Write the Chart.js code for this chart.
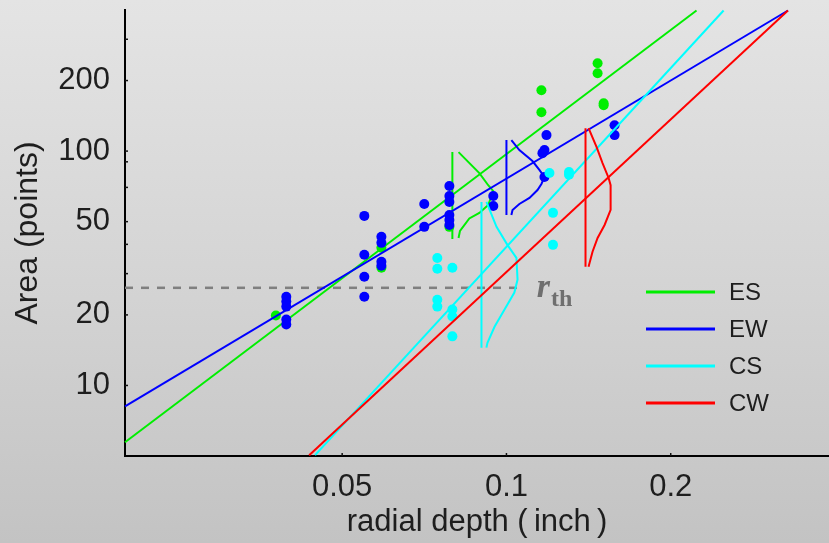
<!DOCTYPE html>
<html>
<head>
<meta charset="utf-8">
<script src="https://cdn.jsdelivr.net/npm/chart.js@4"></script>
<style>
  html, body { margin: 0; padding: 0; }
  body {
    width: 829px; height: 543px; overflow: hidden;
    background: linear-gradient(to bottom, #e4e4e4 0%, #d3d3d3 55%, #c3c3c3 100%);
  }
  #chart { display: block; }
</style>
</head>
<body>
<canvas id="chart" width="829" height="543"></canvas>
<script>
// groups and their colours
const groups = ['ES', 'EW', 'CS', 'CW'];
const groupColors = ['#00ee00', '#0000ff', '#00ffff', '#ff0000'];

// measured spots: radial depth (inch) vs area (points)
const esDepth = [0.0378, 0.059, 0.059, 0.0786, 0.1159, 0.1159, 0.1469, 0.1469, 0.1507, 0.1507];
const esArea  = [19.9, 38.7, 31.8, 47.5, 181.8, 146.6, 236.9, 214.7, 160, 157];

const ewDepth = [0.0395, 0.0395, 0.0395, 0.0395, 0.0395,
                 0.0549, 0.0549, 0.0549, 0.0549,
                 0.059, 0.059, 0.059, 0.059,
                 0.0707, 0.0707,
                 0.0786, 0.0786, 0.0786, 0.0786, 0.0786, 0.0786,
                 0.0946, 0.0946,
                 0.1184, 0.1174, 0.1164, 0.1174,
                 0.1578, 0.1578];
const ewArea  = [23.9, 22.8, 21.7, 19.1, 18.2,
                 52.9, 36.1, 29.1, 23.9,
                 43.1, 40.6, 33.7, 32.4,
                 59.5, 47.5,
                 71, 64.3, 60.7, 53.4, 50.8, 48.4,
                 64.3, 58.3,
                 117, 101, 98, 77.5,
                 129, 117];

const csDepth = [0.0747, 0.0747, 0.0747, 0.0747, 0.0796, 0.0796, 0.0796, 0.0796,
                 0.1199, 0.1302, 0.1302, 0.1217, 0.1217];
const csArea  = [35.0, 31.5, 23.2, 21.7, 31.8, 21.1, 19.7, 16.2,
                 80.6, 81.4, 79.3, 54.5, 39.8];

// power-law fits (straight in log-log)
const esFitDepth = [0.02, 0.223],  esFitArea = [5.72, 398];
const ewFitDepth = [0.02, 0.328],  ewFitArea = [8.14, 398];
const csFitDepth = [0.0446, 0.25], csFitArea = [5.04, 398];
const cwFitDepth = [0.0435, 0.328], cwFitArea = [5.04, 398];

// spread of area at a fixed depth: stem + density profile
const esStemDepth = [0.0796, 0.0796], esStemArea = [99, 42.2];
const esDistDepth = [0.0817, 0.0892, 0.0926, 0.0946, 0.0926, 0.0892, 0.0855, 0.0822, 0.0817];
const esDistArea  = [99, 80.6, 71.5, 67.5, 58.9, 54.5, 51.6, 45.7, 42.6];

const ewStemDepth = [0.1, 0.1], ewStemArea = [111.4, 53.4];
const ewDistDepth = [0.1021, 0.1056, 0.1116, 0.115, 0.1174, 0.1159, 0.114, 0.1102, 0.1056, 0.1026, 0.1021];
const ewDistArea  = [111.4, 101, 90.7, 83, 77.5, 72.4, 68.2, 63.1, 59.5, 56.1, 53.4];

const csStemDepth = [0.09, 0.09], csStemArea = [60.7, 14.5];
const csDistDepth = [0.0919, 0.0959, 0.1004, 0.1043, 0.1048, 0.1034, 0.0992, 0.0951, 0.0923, 0.0919];
const csDistArea  = [60.7, 47.5, 39.8, 35.0, 28.3, 24.9, 21.1, 17.8, 15.2, 14.5];

const cwStemDepth = [0.1396, 0.1396], cwStemArea = [125.3, 32.1];
const cwDistDepth = [0.1414, 0.1463, 0.15, 0.1539, 0.1552, 0.1552, 0.1513, 0.1469, 0.1438, 0.1414];
const cwDistArea  = [125.3, 104, 88.9, 76.8, 71.5, 56.1, 48.4, 42.6, 37.2, 32.1];

// threshold radius
const rThreshold = 26.1;
const rThresholdDepth = [0.02, 0.108];

// axis ranges and ticks
const xRange = [0.02, 0.39];
const yRange = [5, 400];
const xTicks = [0.05, 0.1, 0.2];
const yTicks = [10, 20, 50, 100, 200];
const xTickMarks = [0.05, 0.1, 0.2];
const yTickMarks = [300, 200, 100, 90, 70, 50, 40, 30, 20, 10];

const FONT = "'Liberation Sans', Arial, sans-serif";

function pts(xs, ys) {
  return xs.map((x, i) => ({ x: x, y: ys[i] }));
}

function lineSet(xs, ys, color, order) {
  return {
    data: pts(xs, ys),
    showLine: true,
    borderColor: color,
    borderWidth: 2,
    pointRadius: 0,
    fill: false,
    order: order
  };
}

function dotSet(xs, ys, color, order) {
  return {
    data: pts(xs, ys),
    showLine: false,
    backgroundColor: color,
    borderWidth: 0,
    pointRadius: 5,
    order: order
  };
}

// pin a log axis to its range and fixed tick list
function pinAxis(range, ticks) {
  return {
    afterDataLimits: (scale) => { scale.min = range[0]; scale.max = range[1]; },
    afterBuildTicks: (scale) => {
      scale.ticks = ticks.map(v => ({ value: v }));
      scale.min = range[0];
      scale.max = range[1];
    }
  };
}

const [cES, cEW, cCS, cCW] = groupColors;

const datasets = [
  // dashed threshold line, drawn first
  Object.assign(lineSet(rThresholdDepth, [rThreshold, rThreshold], '#7f7f7f', 50),
    { borderDash: [8, 8], borderWidth: 2.5 }),

  lineSet(esFitDepth, esFitArea, cES, 44),
  lineSet(esStemDepth, esStemArea, cES, 43),
  lineSet(esDistDepth, esDistArea, cES, 42),
  dotSet(esDepth, esArea, cES, 41),

  lineSet(ewFitDepth, ewFitArea, cEW, 34),
  lineSet(ewStemDepth, ewStemArea, cEW, 33),
  lineSet(ewDistDepth, ewDistArea, cEW, 32),
  dotSet(ewDepth, ewArea, cEW, 31),

  lineSet(csFitDepth, csFitArea, cCS, 24),
  lineSet(csStemDepth, csStemArea, cCS, 23),
  lineSet(csDistDepth, csDistArea, cCS, 22),
  dotSet(csDepth, csArea, cCS, 21),

  lineSet(cwFitDepth, cwFitArea, cCW, 14),
  lineSet(cwStemDepth, cwStemArea, cCW, 13),
  lineSet(cwDistDepth, cwDistArea, cCW, 12)
];

// small inward tick marks on both axes
const inwardTicks = {
  id: 'inwardTicks',
  afterDraw(chart) {
    const { ctx, chartArea, scales } = chart;
    ctx.save();
    ctx.strokeStyle = '#111';
    ctx.lineWidth = 1.5;
    yTickMarks.forEach(v => {
      const y = scales.y.getPixelForValue(v);
      ctx.beginPath();
      ctx.moveTo(chartArea.left, y);
      ctx.lineTo(chartArea.left + 3, y);
      ctx.stroke();
    });
    xTickMarks.forEach(v => {
      const x = scales.x.getPixelForValue(v);
      ctx.beginPath();
      ctx.moveTo(x, chartArea.bottom);
      ctx.lineTo(x, chartArea.bottom - 3);
      ctx.stroke();
    });
    ctx.restore();
  }
};

// r_th label at the end of the dashed line
const thresholdLabel = {
  id: 'thresholdLabel',
  afterDraw(chart) {
    const { ctx, scales } = chart;
    const x = scales.x.getPixelForValue(rThresholdDepth[1]) + 12;
    const y = scales.y.getPixelForValue(rThreshold);
    ctx.save();
    ctx.fillStyle = '#6f6f6f';
    ctx.textBaseline = 'alphabetic';
    ctx.textAlign = 'left';
    ctx.font = "italic bold 34px 'Liberation Serif', 'DejaVu Serif', serif";
    ctx.fillText('r', x, y + 9);
    const w = ctx.measureText('r').width;
    ctx.font = "bold 24px 'Liberation Serif', 'DejaVu Serif', serif";
    ctx.fillText('th', x + w + 1, y + 18);
    ctx.restore();
  }
};

// legend: short line + label per group
const sideLegend = {
  id: 'sideLegend',
  afterDraw(chart) {
    const { ctx } = chart;
    ctx.save();
    ctx.font = '24px ' + FONT;
    ctx.textBaseline = 'middle';
    ctx.textAlign = 'left';
    groups.forEach((name, i) => {
      const y = 292 + i * 37;
      ctx.strokeStyle = groupColors[i];
      ctx.lineWidth = 3;
      ctx.beginPath();
      ctx.moveTo(646, y);
      ctx.lineTo(715, y);
      ctx.stroke();
      ctx.fillStyle = '#1e1e1e';
      ctx.fillText(name, 729, y + 1);
    });
    ctx.restore();
  }
};

new Chart(document.getElementById('chart'), {
  type: 'scatter',
  data: { datasets: datasets },
  options: {
    responsive: false,
    animation: false,
    clip: false,
    // no extra room for point radii: the x axis runs to the canvas edge
    layout: { autoPadding: false, padding: { top: 10, right: 0, left: 0, bottom: 0 } },
    plugins: {
      legend: { display: false },
      tooltip: { enabled: false }
    },
    scales: {
      x: Object.assign({
        type: 'logarithmic',
        bounds: 'data',
        min: xRange[0],
        max: xRange[1],
        afterFit: (scale) => {
          scale.height = 87;
          scale.paddingLeft = 0;
          scale.paddingRight = 0;
        },
        grid: { display: false, drawTicks: false },
        border: { display: true, color: '#000', width: 2 },
        ticks: {
          autoSkip: false,
          maxRotation: 0,
          padding: 13,
          color: '#1e1e1e',
          font: { family: FONT, size: 31 },
          callback: (v) => String(v)
        },
        title: {
          display: true,
          text: 'radial depth (\u2009inch\u2009)',
          color: '#1e1e1e',
          font: { family: FONT, size: 31 },
          padding: { top: 0, bottom: 2 }
        }
      }, pinAxis(xRange, xTicks)),
      y: Object.assign({
        type: 'logarithmic',
        bounds: 'data',
        min: yRange[0],
        max: yRange[1],
        afterFit: (scale) => {
          scale.width = 125;
          scale.paddingTop = 0;
          scale.paddingBottom = 0;
        },
        grid: { display: false, drawTicks: false },
        border: { display: true, color: '#000', width: 2 },
        ticks: {
          autoSkip: false,
          padding: 15,
          color: '#1e1e1e',
          font: { family: FONT, size: 31 },
          callback: (v) => String(v)
        },
        title: {
          display: true,
          text: 'Area (points)',
          color: '#1e1e1e',
          font: { family: FONT, size: 32 },
          padding: { top: 9, bottom: 0 }
        }
      }, pinAxis(yRange, yTicks))
    }
  },
  plugins: [inwardTicks, thresholdLabel, sideLegend]
});
</script>
</body>
</html>
